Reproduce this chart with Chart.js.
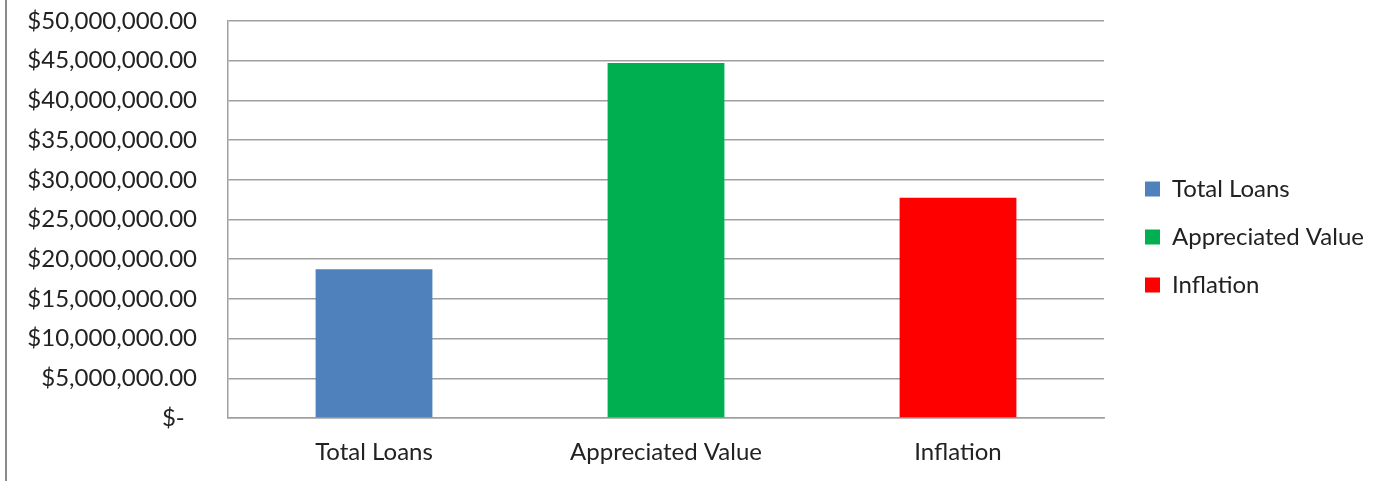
<!DOCTYPE html>
<html>
<head>
<meta charset="utf-8">
<script src="https://cdn.jsdelivr.net/npm/chart.js@4.4.1/dist/chart.umd.min.js"></script>
<style>
  html, body { margin: 0; padding: 0; background: #fff; }
  #wrap { position: relative; width: 1389px; height: 481px; }
  #edge { position: absolute; left: 5px; top: 0; width: 2px; height: 481px; background: #8a8a8a; }
  canvas { position: absolute; left: 0; top: 0; }
</style>
</head>
<body>
<div id="wrap">
  <canvas id="c" width="1389" height="481"></canvas>
  <div id="edge"></div>
</div>
<script>
const categories = ['Total Loans', 'Appreciated Value', 'Inflation'];
const values = [18730000, 44700000, 27750000];
const barColors = ['#4F81BD', '#00B050', '#FF0000'];
const yTicks = [0, 5000000, 10000000, 15000000, 20000000, 25000000, 30000000, 35000000, 40000000, 45000000, 50000000];

const FONT = 'Lato, "Open Sans", sans-serif';
const FS = 24;
const TEXT = '#222222';
const GRID = '#a0a0a0';

function build() {
  const legendPad = 24, boxW = 15;
  const boxX = 1145;        // target left of legend boxes
  const plotRight = 1104;   // target right edge of plot area
  const firstCenter = 189;  // target centre of first legend row
  const mctx = document.createElement('canvas').getContext('2d');
  mctx.font = FS + 'px ' + FONT;
  const maxText = Math.max(...categories.map(t => mctx.measureText(t).width));
  const itemW = boxW + FS / 2 + maxText;
  const rightPad = Math.max(0, 1389 - plotRight - legendPad - itemW - 10);
  const padTop = 21;

  const legendShift = {
    id: 'legendShift',
    afterLayout(chart) {
      const lg = chart.legend;
      if (!lg) return;
      const dx = (boxX - legendPad) - lg.left;
      lg.left += dx; lg.right += dx;
      const colH = 3 * (FS + legendPad);
      const curY = (lg.top + legendPad + lg.bottom - colH) / 2;
      const dy = (firstCenter - FS / 2) - curY;
      lg.top += dy; lg.bottom += dy;
    }
  };

  new Chart(document.getElementById('c'), {
    type: 'bar',
    data: {
      labels: categories,
      datasets: [{
        label: 'Value',
        data: values,
        backgroundColor: barColors,
        borderWidth: 0,
        barPercentage: 0.4,
        categoryPercentage: 1.0
      }]
    },
    plugins: [legendShift],
    options: {
      responsive: false,
      animation: false,
      devicePixelRatio: 1,
      layout: { padding: { top: padTop, bottom: 0, left: 0, right: rightPad } },
      plugins: {
        tooltip: { enabled: false },
        legend: {
          position: 'right',
          labels: {
            boxWidth: boxW,
            boxHeight: boxW,
            padding: legendPad,
            color: TEXT,
            font: { family: FONT, size: FS },
            generateLabels: (chart) => categories.map((c, i) => ({
              text: c,
              fillStyle: barColors[i],
              strokeStyle: barColors[i],
              lineWidth: 0,
              hidden: false,
              index: i,
              fontColor: TEXT
            }))
          }
        }
      },
      scales: {
        x: {
          grid: { display: false, drawTicks: false },
          border: { display: true, color: GRID, width: 1.5 },
          ticks: { color: TEXT, font: { family: FONT, size: FS }, padding: 20, maxRotation: 0 },
          afterFit: (s) => { s.height = 481 - 418; s.paddingLeft = 0; s.paddingRight = 0; }
        },
        y: {
          min: 0,
          max: 50000000,
          afterBuildTicks: (s) => { s.ticks = yTicks.map(v => ({ value: v })); },
          grid: { color: GRID, lineWidth: 1.5, drawTicks: false },
          border: { display: true, color: GRID, width: 1.5 },
          ticks: {
            color: TEXT,
            font: { family: FONT, size: FS },
            padding: 31,
            callback: (v) => v === 0 ? '$-  ' : '$' + Number(v).toLocaleString('en-US') + '.00'
          },
          afterFit: (s) => { s.width = 228; s.paddingTop = 0; s.paddingBottom = 0; }
        }
      }
    }
  });
}

if (document.fonts && document.fonts.load) {
  document.fonts.load(FS + 'px Lato').then(build, build);
} else {
  build();
}
</script>
</body>
</html>
